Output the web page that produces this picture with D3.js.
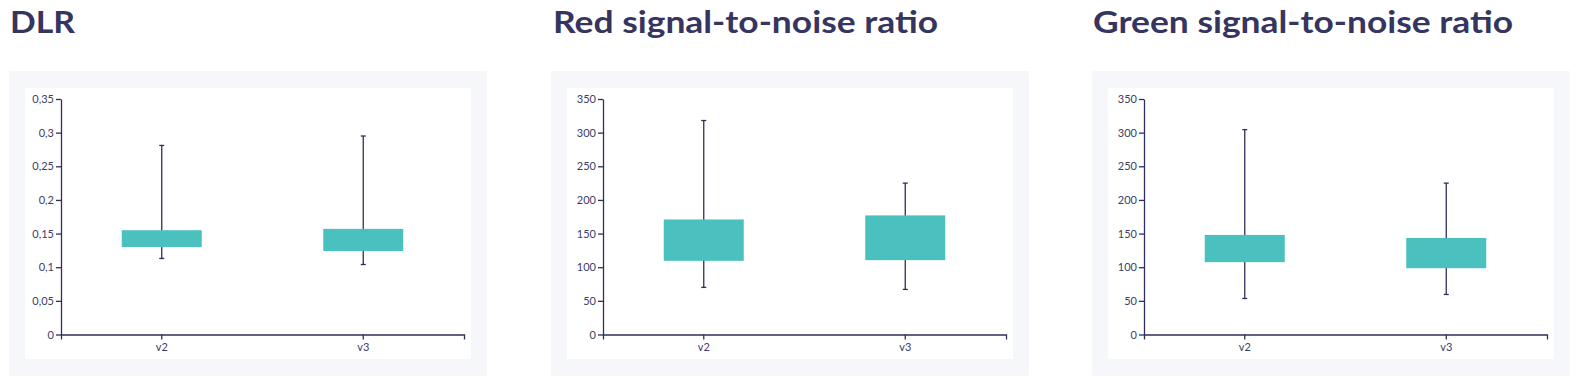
<!DOCTYPE html>
<html>
<head>
<meta charset="utf-8">
<script src="https://cdn.jsdelivr.net/npm/d3@7"></script>
<style>
  body { margin: 0; background: #fff; }
  svg { display: block; }
  .tick text { font-family: Lato, "Open Sans", sans-serif; font-size: 11px; fill: #3d3d66; }
</style>
</head>
<body>
<svg id="chart" width="1578" height="385"></svg>
<script>
// chart data
const titles = ['DLR', 'Red signal-to-noise ratio', 'Green signal-to-noise ratio'];
const versions = ['v2', 'v3'];
const yMax = [0.35, 350, 350];
const yTicks = [
  [0, 0.05, 0.1, 0.15, 0.2, 0.25, 0.3, 0.35],
  [0, 50, 100, 150, 200, 250, 300, 350],
  [0, 50, 100, 150, 200, 250, 300, 350],
];
// [whisker low, box low, box high, whisker high] per version
const dlrStats = [[0.113, 0.130, 0.155, 0.281], [0.104, 0.124, 0.157, 0.295]];
const redStats = [[70, 109.5, 171, 318], [67, 110.5, 177, 225]];
const greenStats = [[53.5, 107.5, 148, 304.5], [59.5, 98.5, 143.5, 225]];
const allStats = [dlrStats, redStats, greenStats];

// layout
const panelX = [9, 551, 1092];
const titleX = [10, 553, 1093];
const titleWidth = [65, 385, 420];
const navy = '#2f2f5b';
const teal = '#4ac1bf';

const comma = d3.formatLocale({ decimal: ',', thousands: '.', grouping: [3], currency: ['', ''] });
const fmt = (v) => comma.format('~g')(v);

const svg = d3.select('#chart');

titles.forEach((title, i) => {
  const px = panelX[i];

  svg.append('text')
    .attr('x', titleX[i])
    .attr('y', 33)
    .attr('textLength', titleWidth[i])
    .attr('lengthAdjust', 'spacingAndGlyphs')
    .style('font-family', 'Lato, "Open Sans", sans-serif')
    .style('font-weight', 700)
    .style('font-size', '31px')
    .style('fill', '#35355f')
    .text(title);

  // card background
  svg.append('rect')
    .attr('x', px).attr('y', 71)
    .attr('width', 478).attr('height', 305)
    .attr('fill', '#f6f7fb');
  svg.append('rect')
    .attr('x', px + 16).attr('y', 88)
    .attr('width', 446).attr('height', 271)
    .attr('fill', '#fff');

  const x = d3.scaleBand()
    .domain(versions)
    .range([px + 52, px + 455]);
  const y = d3.scaleLinear()
    .domain([0, yMax[i]])
    .range([334.5, 99]);

  const g = svg.append('g');

  g.append('g')
    .attr('transform', `translate(0,${y(0)})`)
    .call(d3.axisBottom(x).tickSize(5).tickPadding(4))
    .call((a) => a.selectAll('path, line').attr('stroke', navy).attr('stroke-width', 1.3));

  g.append('g')
    .attr('transform', `translate(${x.range()[0]},0)`)
    .call(d3.axisLeft(y).tickValues(yTicks[i]).tickFormat(fmt).tickSize(5).tickPadding(2).tickSizeOuter(0))
    .call((a) => a.selectAll('path, line').attr('stroke', navy).attr('stroke-width', 1.3));

  const boxW = 80;
  const box = g.selectAll('.box')
    .data(allStats[i])
    .enter()
    .append('g')
    .attr('class', 'box')
    .attr('transform', (d, j) => `translate(${x(versions[j]) + x.bandwidth() / 2},0)`);

  box.append('line')
    .attr('x1', 0).attr('x2', 0)
    .attr('y1', (d) => y(d[0]))
    .attr('y2', (d) => y(d[3]))
    .attr('stroke', navy)
    .attr('stroke-width', 1.3);

  [0, 3].forEach((k) => {
    box.append('line')
      .attr('x1', -2.5).attr('x2', 2.5)
      .attr('y1', (d) => y(d[k]))
      .attr('y2', (d) => y(d[k]))
      .attr('stroke', navy)
      .attr('stroke-width', 1.3);
  });

  box.append('rect')
    .attr('x', -boxW / 2)
    .attr('width', boxW)
    .attr('y', (d) => y(d[2]))
    .attr('height', (d) => y(d[1]) - y(d[2]))
    .attr('fill', teal);
});
</script>
</body>
</html>
